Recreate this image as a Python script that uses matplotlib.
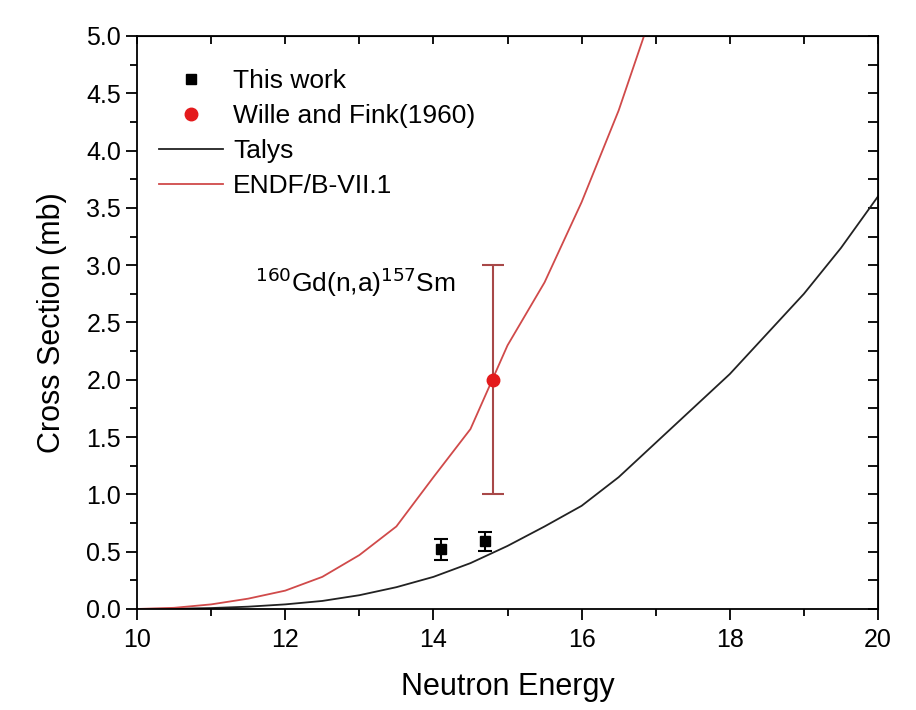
import numpy as np
import matplotlib.pyplot as plt
from matplotlib.ticker import MultipleLocator
from matplotlib.lines import Line2D

plt.rcParams['font.family'] = ['Liberation Sans', 'DejaVu Sans']

# measured points (this work)
this_x = [14.1, 14.7]
this_y = [0.52, 0.59]
this_err = [0.09, 0.08]

# Wille and Fink (1960)
wf_x = [14.8]
wf_y = [2.0]
wf_err = [1.0]

# Talys calculation
talys_x = [10, 10.5, 11, 11.5, 12, 12.5, 13, 13.5, 14, 14.5, 15, 15.5, 16,
           16.5, 17, 17.5, 18, 18.5, 19, 19.5, 20]
talys_y = [0, 0.002, 0.008, 0.02, 0.04, 0.07, 0.12, 0.19, 0.28, 0.4, 0.55,
           0.72, 0.9, 1.15, 1.45, 1.75, 2.05, 2.4, 2.75, 3.15, 3.6]

# ENDF/B-VII.1 evaluation
endf_x = [10, 10.5, 11, 11.5, 12, 12.5, 13, 13.5, 14, 14.5, 15, 15.5, 16, 16.5, 17]
endf_y = [0, 0.01, 0.04, 0.09, 0.16, 0.28, 0.47, 0.72, 1.15, 1.57, 2.3, 2.85,
          3.55, 4.35, 5.3]

talys_col = '#222222'
endf_col = '#d04a4a'

fig = plt.figure(figsize=(9.16, 7.1), dpi=100)
ax = fig.add_axes([0.1496, 0.1423, 0.8089, 0.807])

ax.errorbar(this_x, this_y, yerr=this_err, fmt='s', color='black', ms=7,
            capsize=5, elinewidth=1.5, capthick=1.5, zorder=4)
ax.errorbar(wf_x, wf_y, yerr=wf_err, fmt='o', color='#e41a1c', ecolor='#a84848',
            ms=9, capsize=8, elinewidth=1.5, capthick=1.5, zorder=4)
ax.plot(talys_x, talys_y, color=talys_col, lw=1.3)
ax.plot(endf_x, endf_y, color=endf_col, lw=1.3)

ax.text(12.95, 2.85, r'$^{160}$Gd(n,a)$^{157}$Sm', fontsize=19, ha='center', va='center')

ax.set_xlim(10, 20)
ax.set_ylim(0, 5)
ax.xaxis.set_major_locator(MultipleLocator(2))
ax.xaxis.set_minor_locator(MultipleLocator(1))
ax.yaxis.set_major_locator(MultipleLocator(0.5))
ax.yaxis.set_minor_locator(MultipleLocator(0.25))
ax.yaxis.set_major_formatter(plt.FormatStrFormatter('%.1f'))
ax.tick_params(which='major', direction='out', length=8, width=1.3, labelsize=18)
ax.tick_params(axis='x', which='major', pad=6)
ax.tick_params(which='minor', direction='out', length=5, width=1.3)

# inward ticks on top and right
top = ax.secondary_xaxis('top')
top.xaxis.set_major_locator(MultipleLocator(1))
top.tick_params(direction='in', length=6, width=1.3, labeltop=False)
right = ax.secondary_yaxis('right')
right.yaxis.set_major_locator(MultipleLocator(0.25))
right.tick_params(direction='in', length=7, width=1.3, labelright=False)

for s in ax.spines.values():
    s.set_linewidth(1.3)

ax.set_xlabel('Neutron Energy', fontsize=22, labelpad=14)
ax.set_ylabel('Cross Section (mb)', fontsize=22, labelpad=14)

handles = [
    Line2D([], [], ls='none', marker='s', color='black', ms=7),
    Line2D([], [], ls='none', marker='o', color='#e41a1c', ms=9),
    Line2D([], [], color=talys_col, lw=1.3),
    Line2D([], [], color=endf_col, lw=1.3),
]
labels = ['This work', 'Wille and Fink(1960)', 'Talys', 'ENDF/B-VII.1']
ax.legend(handles, labels, loc='upper left', frameon=False, fontsize=19,
          handlelength=2.4, handletextpad=0.4, labelspacing=0.42,
          borderaxespad=0, borderpad=0, bbox_to_anchor=(0.03, 0.942))

fig.savefig('out.png', dpi=100)
